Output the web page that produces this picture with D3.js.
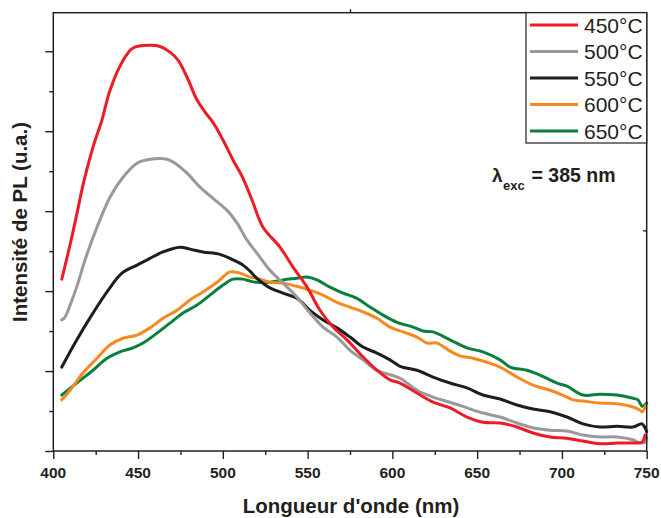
<!DOCTYPE html>
<html>
<head>
<meta charset="utf-8">
<script src="https://cdn.jsdelivr.net/npm/d3@7/dist/d3.min.js"></script>
<style>
  html, body { margin: 0; padding: 0; background: #fff; }
  svg { display: block; }
  text { font-family: "Liberation Sans", Arial, sans-serif; fill: #231f20; }
</style>
</head>
<body>
<svg id="chart" width="661" height="518"></svg>
<script>
// ---- Data (wavelength in nm, PL intensity in arbitrary units) ----
const seriesNames = ["450°C", "500°C", "550°C", "600°C", "650°C"];
const seriesColors = ["#ec1c24", "#999999", "#1f1d1e", "#f6891f", "#0b7f3e"];

const wl450 = [405,409.9,414,417.5,423.4,428.7,433.4,440.5,447,457,463,468.8,473.6,478.9,484.8,489.5,494.2,500.1,506,511.9,517.2,523.7,533.7,541.4,549.7,557.3,565,573.2,582.7,590.9,598.6,604.5,614.5,624,634,644,653.4,663.5,673.5,682.9,693,703,712.4,722.5,732.5,741.9,747.2,749];
const pl450 = [2.15,2.58,2.975,3.325,3.8,4.14,4.51,4.86,5.04,5.075,5.06,4.99,4.89,4.675,4.39,4.24,4.11,3.89,3.64,3.41,3.14,2.8,2.55,2.3,2.05,1.76,1.55,1.39,1.175,1.01,0.89,0.85,0.725,0.61,0.54,0.425,0.36,0.35,0.3,0.225,0.175,0.16,0.125,0.09,0.1,0.1,0.11,0.2];

const wl500 = [405,406.9,409.9,413.8,418.7,425.8,433.4,441.1,449.4,457,467.1,471.8,478.9,486.5,494.2,502.5,508.4,514.2,520.1,527.8,535.5,543.7,551.4,559.1,567.3,575,582.7,590.9,604.5,614.5,624,634,644,653.4,663.5,673.5,682.9,693,703,712.4,722.5,732.5,741.9,746.1,749,750];
const pl500 = [1.64,1.675,1.825,2.05,2.39,2.8,3.175,3.425,3.6,3.65,3.65,3.6,3.475,3.3,3.16,3.01,2.85,2.64,2.475,2.26,2.1,1.925,1.725,1.55,1.425,1.26,1.14,1.01,0.91,0.76,0.675,0.61,0.54,0.475,0.425,0.35,0.29,0.26,0.25,0.2,0.175,0.175,0.14,0.1,0.11,0.175];

const wl550 = [405,413.8,423.4,432.3,440.5,449.4,457,464.7,474.7,480.6,488.3,498.3,506,511.9,516,520.1,527.8,535.5,543.7,551.4,559.1,567.3,575,582.7,590.9,598.6,604.5,614.5,624,634,644,653.4,663.5,673.5,682.9,693,703,712.4,722.5,732.5,741.9,747.3,749,750];
const pl550 = [1.05,1.39,1.725,2.01,2.225,2.325,2.41,2.49,2.55,2.525,2.49,2.46,2.39,2.325,2.25,2.16,2.04,1.975,1.91,1.76,1.64,1.54,1.425,1.3,1.225,1.14,1.06,1.01,0.925,0.85,0.79,0.7,0.65,0.575,0.525,0.49,0.425,0.34,0.3,0.31,0.3,0.34,0.29,0.24];

const wl600 = [405,409.9,417.5,425.8,433.4,441.1,449.4,457,464.7,473,480.6,488.3,496.6,504.2,510.1,516,520.1,527.8,535.5,543.7,551.4,559.1,567.3,575,582.7,590.9,598.6,606.3,614.5,620.4,626.3,634,639.9,647.6,655.8,663.5,673.5,682.9,693,703,706.6,712.4,722.5,732.5,741.9,746.1,747.3,749.6];
const pl600 = [0.64,0.76,0.975,1.16,1.325,1.41,1.45,1.54,1.66,1.76,1.89,1.99,2.11,2.24,2.225,2.175,2.16,2.11,2.1,2.06,2.01,1.95,1.86,1.8,1.74,1.66,1.55,1.49,1.425,1.35,1.35,1.25,1.19,1.16,1.11,1.05,0.925,0.825,0.76,0.675,0.64,0.625,0.6,0.59,0.55,0.51,0.49,0.575];

const wl650 = [405,413.8,423.4,431.7,439.3,447,452.9,461.2,468.8,476.5,484.8,492.4,500.1,506,511.9,516,520.1,527.8,535.5,543.7,549.6,555.5,563.2,570.9,579.1,586.8,594.5,602.7,612.2,618.1,624,634,644,653.4,663.5,669.4,679.4,687,697.1,703,712.4,722.5,732.5,741.9,744.9,747.3,750];
const pl650 = [0.7,0.85,1.01,1.16,1.24,1.29,1.35,1.475,1.6,1.725,1.825,1.95,2.075,2.15,2.15,2.125,2.11,2.11,2.14,2.16,2.175,2.14,2.05,1.975,1.91,1.8,1.7,1.61,1.55,1.5,1.49,1.39,1.29,1.24,1.14,1.05,1.01,0.95,0.85,0.81,0.7,0.71,0.7,0.66,0.64,0.56,0.6];

const xMajorTicks = [400, 450, 500, 550, 600, 650, 700, 750];
const xMinorTicks = [425, 475, 525, 575, 625, 675, 725];
const yMajorTicks = [0, 1, 2, 3, 4, 5];
const yMinorTicks = [0.5, 1.5, 2.5, 3.5, 4.5];

const xTitle = "Longueur d'onde (nm)";
const yTitle = "Intensité de PL (u.a.)";

// ---- Build ----
const wls = [wl450, wl500, wl550, wl600, wl650];
const pls = [pl450, pl500, pl550, pl600, pl650];
const series = seriesNames.map((name, i) => ({
  name, color: seriesColors[i],
  values: wls[i].map((w, j) => ({ w, v: pls[i][j] }))
}));

const svg = d3.select("#chart");
const mLeft = 53.3, mRight = 646.7, mTop = 12.7, mBottom = 451;
const yMax = 5.4825;
const x = d3.scaleLinear().domain([400, 750]).range([mLeft, mRight]);
const y = d3.scaleLinear().domain([0, yMax]).range([mBottom, mTop]);
const axisColor = "#231f20";

// Curves (drawn 650 first so that 450 is on top)
const line = d3.line().x(d => x(d.w)).y(d => y(d.v)).curve(d3.curveCatmullRom.alpha(0.5));
svg.append("g").selectAll("path")
  .data(series.slice().reverse())
  .join("path")
  .attr("d", d => line(d.values))
  .attr("fill", "none")
  .attr("stroke", d => d.color)
  .attr("stroke-width", 3)
  .attr("stroke-linejoin", "round")
  .attr("stroke-linecap", "round");

// Axes
function styleAxis(g) {
  g.select(".domain").remove();
  g.selectAll(".tick line").attr("stroke", axisColor).attr("stroke-width", 1.4);
  g.selectAll(".tick text").remove();
}
svg.append("g").attr("transform", `translate(0,${mBottom})`)
  .call(d3.axisBottom(x).tickValues(xMajorTicks).tickSize(8)).call(styleAxis);
svg.append("g").attr("transform", `translate(0,${mBottom})`)
  .call(d3.axisBottom(x).tickValues(xMinorTicks).tickSize(4)).call(styleAxis);
svg.append("g").attr("transform", `translate(${mLeft},0)`)
  .call(d3.axisLeft(y).tickValues(yMajorTicks).tickSize(8)).call(styleAxis);
svg.append("g").attr("transform", `translate(${mLeft},0)`)
  .call(d3.axisLeft(y).tickValues(yMinorTicks).tickSize(4)).call(styleAxis);
// stray inner ticks on top and right frame
svg.append("g").attr("transform", `translate(0,${mTop})`)
  .call(d3.axisBottom(x).tickValues([575]).tickSize(-3.5)).call(styleAxis);
svg.append("g").attr("transform", `translate(${mRight},0)`)
  .call(d3.axisRight(y).tickValues([2.76]).tickSize(-3.5)).call(styleAxis);

// Frame
svg.append("rect")
  .attr("x", x(400)).attr("y", y(yMax))
  .attr("width", x(750) - x(400)).attr("height", y(0) - y(yMax))
  .attr("fill", "none").attr("stroke", axisColor).attr("stroke-width", 1.5);

// Tick labels
svg.append("g").selectAll("text")
  .data(xMajorTicks).join("text")
  .attr("x", d => x(d)).attr("y", 478.3)
  .attr("text-anchor", "middle")
  .attr("font-size", "15.5px").attr("font-weight", "bold")
  .text(d => d);

// Axis titles
svg.append("text")
  .attr("x", 351).attr("y", 513.3)
  .attr("text-anchor", "middle")
  .attr("font-size", "20.5px").attr("font-weight", "bold")
  .text(xTitle);
svg.append("text")
  .attr("transform", "translate(27,222) rotate(-90)")
  .attr("text-anchor", "middle")
  .attr("font-size", "20.5px").attr("font-weight", "bold")
  .text(yTitle);

// Legend
const lg = svg.append("g");
lg.append("rect")
  .attr("x", 526).attr("y", mTop)
  .attr("width", mRight - 526).attr("height", 143 - mTop)
  .attr("fill", "#fff").attr("stroke", axisColor).attr("stroke-width", 1.2);
const item = lg.selectAll("g.item").data(series).join("g")
  .attr("class", "item")
  .attr("transform", (d, i) => `translate(0,${25 + i * 26.5})`);
item.append("line")
  .attr("x1", 530).attr("x2", 578)
  .attr("stroke", d => d.color).attr("stroke-width", 3);
item.append("text")
  .attr("x", 584).attr("y", 7.5)
  .attr("font-size", "21px")
  .text(d => d.name);

// Annotation
const ann = svg.append("text").attr("font-weight", "bold");
ann.append("tspan").attr("x", 492).attr("y", 181.7).attr("font-size", "19px").text("λ");
ann.append("tspan").attr("x", 503).attr("y", 189.5).attr("font-size", "13px").text("exc");
ann.append("tspan").attr("x", 531.5).attr("y", 181.7).attr("font-size", "19.5px").text("= 385 nm");
</script>
</body>
</html>
